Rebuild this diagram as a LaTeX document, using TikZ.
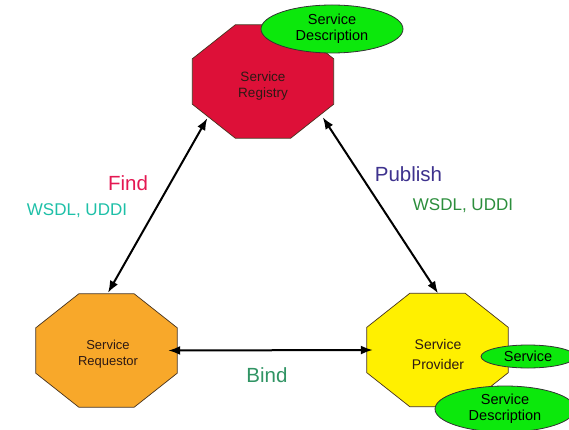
\documentclass[tikz,border=0pt]{standalone}
\usepackage{fontspec}
\setmainfont{Liberation Sans}
\usetikzlibrary{calc,shapes.geometric,arrows.meta,backgrounds}

\definecolor{regred}{RGB}{221,16,56}
\definecolor{reqorange}{RGB}{248,168,42}
\definecolor{provyellow}{RGB}{255,240,0}
\definecolor{descgreen}{RGB}{12,232,12}
\definecolor{octedge}{RGB}{70,50,30}
\definecolor{octtext}{RGB}{45,25,20}
\definecolor{findcol}{RGB}{228,24,82}
\definecolor{publishcol}{RGB}{62,50,142}
\definecolor{wsdlleft}{RGB}{30,192,168}
\definecolor{wsdlright}{RGB}{44,142,60}
\definecolor{bindcol}{RGB}{48,148,100}

% octagon outline around a rectangular node of the same size
\newcommand\drawoct[2]{%
  \filldraw[octline, fill=#2]
    ($(#1.north west)+(43,0)$) -- ($(#1.north east)+(-43,0)$) --
    ($(#1.north east)+(0,34)$) -- ($(#1.south east)+(0,-34)$) --
    ($(#1.south east)+(-43,0)$) -- ($(#1.south west)+(43,0)$) --
    ($(#1.south west)+(0,-34)$) -- ($(#1.north west)+(0,34)$) -- cycle;}

\begin{document}
\begin{tikzpicture}[x=1pt,y=-1pt,
  octa/.style={rectangle, minimum width=141pt, minimum height=113pt,
    inner sep=0pt},
  octlabel/.style={inner sep=0pt, align=center, text=octtext},
  octline/.style={draw=octedge, line width=0.7pt},
  descr/.style={ellipse, draw=black!80, line width=0.8pt, fill=descgreen,
    inner sep=0pt, align=center, text=black,
    font=\fontsize{14.5}{16}\selectfont},
  link/.style={line width=2pt,
    {Latex[length=12pt,width=9pt]}-{Latex[length=12pt,width=9pt]}},
  lbl/.style={anchor=base, inner sep=0pt, font=\fontsize{20.5}{24}\selectfont},
  proto/.style={anchor=base, inner sep=0pt, font=\fontsize{17}{20}\selectfont}]

\useasboundingbox (0,0) rectangle (569,430);
\clip (0,0) rectangle (569,430);

% the three roles
\node[octa] (reg)  at (263,81.5)  {};
\node[octa] (req)  at (106.5,350.5) {};
\node[octa] (prov) at (437.5,350) {};

\begin{scope}[on background layer]
  \fill[white] (0,0) rectangle (569,430);
  \drawoct{reg}{regred}
  \drawoct{req}{reqorange}
  \drawoct{prov}{provyellow}
\end{scope}

\node[octlabel, font=\fontsize{13.5}{16}\selectfont] (regtext) at (263,86.5) {Service\\Registry};
\node[octlabel, font=\fontsize{13}{16}\selectfont] (reqtext) at (108,354.6) {Service\\Requestor};
\node[octlabel, font=\fontsize{14}{20}\selectfont] (provtext) at (438,354.4) {Service\\Provider};

% attached descriptions
\node[descr, minimum width=142pt, minimum height=48pt] (regdesc) at (332,29) {Service\\Description};
\node[descr, minimum width=94pt, minimum height=23pt] (svc) at (528,356.5) {Service};
\node[descr, minimum width=140pt, minimum height=46pt] (provdesc) at (505,409) {Service\\Description};

% interactions
\coordinate (regfind) at ($(reg.south west)+(15,-20)$);
\coordinate (regpub)  at ($(reg.south east)+(-11,-21)$);
\coordinate (reqtop)  at ($(req.north)+(1.5,-1)$);
\coordinate (provtop) at ($(prov.north)+(0.5,0)$);
\coordinate (reqright) at ($(req.east)+(-9,0)$);
\coordinate (provleft) at ($(prov.west)+(6,0)$);

\draw[link] (regfind) -- (reqtop);
\draw[link] (regpub) -- (provtop);
\draw[link] (reqright) -- (provleft);

% labels
\node[lbl, text=findcol] (find) at (128,190) {Find};
\node[proto, text=wsdlleft] (wl) at (77,215) {WSDL, UDDI};
\node[lbl, text=publishcol] (pub) at (408.5,182) {Publish};
\node[proto, text=wsdlright] (wr) at (463,210) {WSDL, UDDI};
\node[lbl, text=bindcol] (bind) at (267,382) {Bind};
\end{tikzpicture}
\end{document}
